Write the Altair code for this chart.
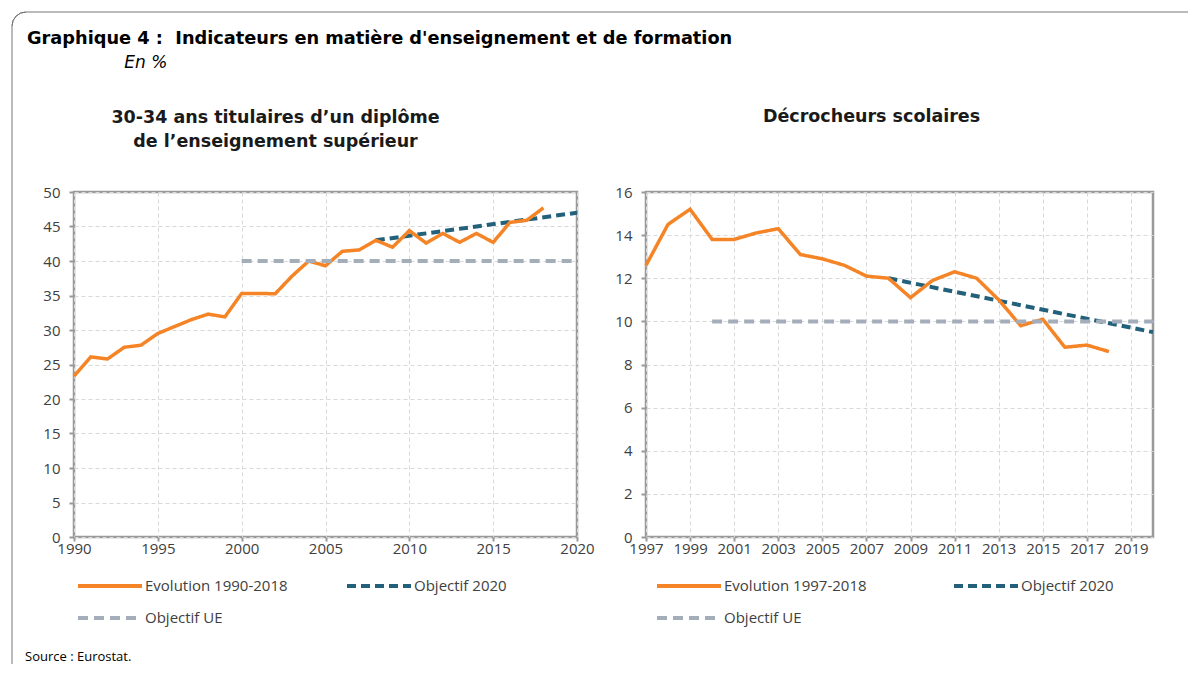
import altair as alt
import pandas as pd

# ---------------- data ----------------
# Panel 1 : 30-34 ans titulaires d'un diplôme de l'enseignement supérieur
years_l = list(range(1990, 2019))
evol_l = [23.3, 26.1, 25.8, 27.5, 27.8, 29.5, 30.5, 31.5, 32.3, 31.9,
          35.3, 35.3, 35.25, 37.8, 40.0, 39.3, 41.4, 41.6, 43.0, 42.0,
          44.4, 42.6, 44.0, 42.7, 44.0, 42.7, 45.6, 45.9, 47.7]
obj2020_years_l = [2008, 2020]
obj2020_l = [43.0, 47.0]
ue_years_l = [2000, 2020]
ue_l = [40.0, 40.0]
series_l = ["Evolution 1990-2018", "Objectif 2020", "Objectif UE"]
xticks_l = [1990, 1995, 2000, 2005, 2010, 2015, 2020]
yticks_l = [0, 5, 10, 15, 20, 25, 30, 35, 40, 45, 50]

# Panel 2 : Décrocheurs scolaires
years_r = list(range(1997, 2019))
evol_r = [12.6, 14.5, 15.2, 13.8, 13.8, 14.1, 14.3, 13.1, 12.9, 12.6,
          12.1, 12.0, 11.1, 11.9, 12.3, 12.0, 11.0, 9.8, 10.1, 8.8,
          8.9, 8.6]
obj2020_years_r = [2008, 2020]
obj2020_r = [12.0, 9.5]
ue_years_r = [2000, 2020]
ue_r = [10.0, 10.0]
series_r = ["Evolution 1997-2018", "Objectif 2020", "Objectif UE"]
xticks_r = [1997, 1999, 2001, 2003, 2005, 2007, 2009, 2011, 2013, 2015, 2017, 2019]
yticks_r = [0, 2, 4, 6, 8, 10, 12, 14, 16]

main_title = "Graphique 4 :\u00a0\u00a0Indicateurs en matière d'enseignement et de formation"
sub_title = "\u200b" + "\u00a0" * 18 + "En %"
title_l = ["30-34 ans titulaires d’un diplôme", "de l’enseignement supérieur"]
title_r = "Décrocheurs scolaires"
source_text = "Source : Eurostat."

# ---------------- styles ----------------
FONT = "Open Sans"
TFONT = "DejaVu Sans"
ORANGE = "#F58426"
TEAL = "#23607A"
GREY = "#A4AEBB"
AXIS_GREY = "#999999"
FRAME_GREY = "#777777"
PW_L, PW_R, PH = 503, 507, 345

# page frame (only its top and left sides are visible), relative to the left plot area
FX, FY, FX2, FY2, FR = -62, -180, 1114, 472, 14


def make_df(series, years, evol, oy, ov, uy, uv):
    rows = []
    for y, v in zip(years, evol):
        rows.append({"year": y, "value": v, "series": series[0]})
    for y, v in zip(oy, ov):
        rows.append({"year": y, "value": v, "series": series[1]})
    for y, v in zip(uy, uv):
        rows.append({"year": y, "value": v, "series": series[2]})
    return pd.DataFrame(rows)


def panel(df, series, xdomain, xticks, ydomain, yticks, legend_x, legend_y, col_pad):
    legend = alt.Legend(
        title=None, orient="none", legendX=legend_x, legendY=legend_y,
        direction="horizontal", columns=2,
        symbolType="M-2,0H2", symbolSize=1024, symbolStrokeWidth=4,
        labelFont=FONT, labelFontSize=15, labelColor="#404040", labelOffset=17,
        columnPadding=col_pad, rowPadding=6, padding=0,
    )
    x = alt.X("year:Q",
              scale=alt.Scale(domain=xdomain, nice=False, zero=False),
              axis=alt.Axis(values=xticks, format="d", title=None,
                            grid=True, gridDash=[4, 3], gridColor="#d9d9d9",
                            domain=False, ticks=True, tickSize=4, tickColor=AXIS_GREY,
                            tickWidth=2,
                            labelFont=FONT, labelFontSize=15, labelColor="#404040",
                            labelPadding=0, labelFlush=False, labelOverlap=False))
    y = alt.Y("value:Q",
              scale=alt.Scale(domain=ydomain, nice=False),
              axis=alt.Axis(values=yticks, title=None,
                            grid=True, gridDash=[4, 3], gridColor="#d9d9d9",
                            domain=False, ticks=True, tickSize=5, tickColor=AXIS_GREY,
                            tickWidth=2,
                            labelFont=FONT, labelFontSize=15, labelColor="#404040",
                            labelPadding=9, labelFlush=False, labelOverlap=False))
    color = alt.Color("series:N", scale=alt.Scale(domain=series, range=[ORANGE, TEAL, GREY]),
                      legend=legend)
    dash = alt.StrokeDash("series:N",
                          scale=alt.Scale(domain=series, range=[[1, 0], [9, 5], [10, 6]]),
                          legend=legend)
    base = alt.Chart(df).encode(x=x, y=y, color=color, strokeDash=dash)
    l_obj = base.transform_filter(alt.datum.series == series[1]).mark_line(strokeWidth=4)
    l_evol = base.transform_filter(alt.datum.series == series[0]).mark_line(strokeWidth=3.5)
    l_ue = base.transform_filter(alt.datum.series == series[2]).mark_line(strokeWidth=4)
    return [l_obj, l_evol, l_ue]


df_l = make_df(series_l, years_l, evol_l, obj2020_years_l, obj2020_l, ue_years_l, ue_l)
df_r = make_df(series_r, years_r, evol_r, obj2020_years_r, obj2020_r, ue_years_r, ue_r)

deco_df = pd.DataFrame({"k": [0]})
deco = alt.Chart(deco_df)
frame_top = deco.mark_rule(color=FRAME_GREY, strokeWidth=1).encode(
    x=alt.value(FX + FR), x2=alt.value(FX2), y=alt.value(FY))
frame_left = deco.mark_rule(color=FRAME_GREY, strokeWidth=1).encode(
    x=alt.value(FX), y=alt.value(FY + FR), y2=alt.value(FY2))
frame_corner = deco.mark_arc(fill="transparent", stroke=FRAME_GREY, strokeWidth=1).encode(
    x=alt.value(FX + FR), y=alt.value(FY + FR),
    theta=alt.value(4.712389), theta2=alt.value(6.283185),
    radius=alt.value(FR), radius2=alt.value(FR))
source = deco.mark_text(
    align="left", baseline="middle", font=FONT, fontSize=13, color="#000000"
).encode(x=alt.value(-49), y=alt.value(465), text=alt.value(source_text))

left = alt.layer(
    frame_top, frame_left, frame_corner, source,
    *panel(df_l, series_l, [1990, 2020], xticks_l, [0, 50], yticks_l, 18, 376, 51)
).properties(
    width=PW_L, height=PH,
    view=alt.ViewConfig(stroke=AXIS_GREY, strokeWidth=2.5),
    title=alt.TitleParams(text=title_l, font=TFONT, fontSize=17.5, fontWeight="bold",
                          color="#1a1a1a", anchor="middle", frame="group", dx=-50,
                          offset=-140, lineHeight=24),
)

right = alt.layer(
    *panel(df_r, series_r, [1997, 2020], xticks_r, [0, 16], yticks_r, 25, 376, 79)
).properties(
    width=PW_R, height=PH,
    view=alt.ViewConfig(stroke=AXIS_GREY, strokeWidth=2.5),
    title=alt.TitleParams(text=title_r, font=TFONT, fontSize=17.5, fontWeight="bold",
                          color="#1a1a1a", anchor="middle", frame="group", dx=-28,
                          offset=60),
)

chart = alt.hconcat(left, right, spacing=69, bounds="flush").resolve_scale(
    color="independent", strokeDash="independent"
).resolve_legend(
    color="independent", strokeDash="independent"
).properties(
    title=alt.TitleParams(text=main_title, subtitle=sub_title, anchor="start",
                          frame="group", dx=-47, offset=-62,
                          font=TFONT, fontSize=17.75, fontWeight="bold", color="#000000",
                          subtitleFont=TFONT, subtitleFontSize=17, subtitleFontStyle="italic",
                          subtitleColor="#000000", subtitlePadding=7),
    padding={"left": 0, "top": 0, "right": 0, "bottom": 0},
    background="white",
)

chart.save("out.html", embed_options={"renderer": "svg", "actions": False})
